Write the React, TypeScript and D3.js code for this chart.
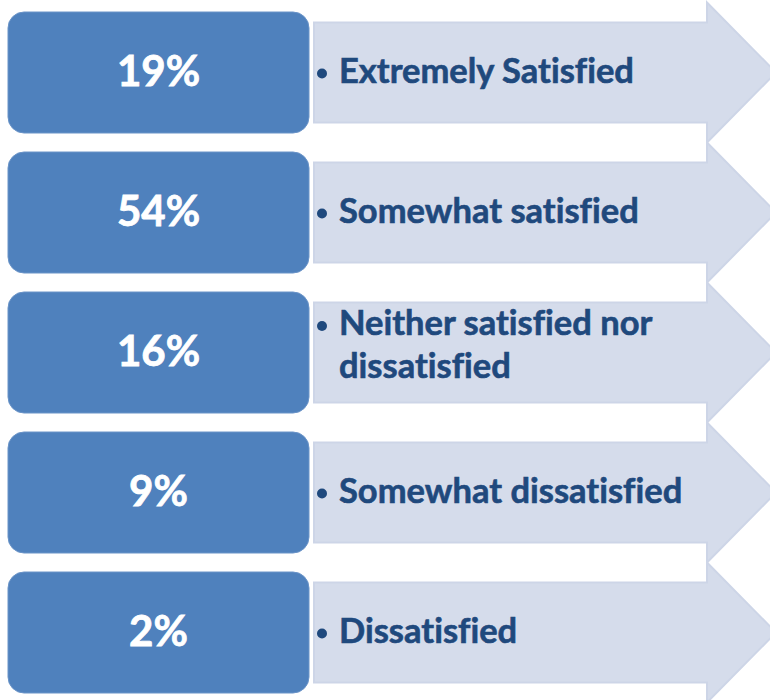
import React from "react";
import * as d3 from "d3";

const values = [19, 54, 16, 9, 2];
const labels: string[][] = [
  ["Extremely Satisfied"],
  ["Somewhat satisfied"],
  ["Neither satisfied nor", "dissatisfied"],
  ["Somewhat dissatisfied"],
  ["Dissatisfied"],
];

const W = 770;
const H = 700;

export default function App() {
  const y = d3
    .scaleBand<number>()
    .domain(d3.range(values.length))
    .range([12, 693])
    .paddingInner(19 / 140)
    .paddingOuter(0);
  const boxX = 8;
  const boxW = 301;
  const bodyX0 = 314;
  const bodyX1 = 707;
  const tipX = 776;
  const font = "Lato, 'Open Sans', sans-serif";

  return (
    <svg
      width={W}
      height={H}
      style={{ position: "absolute", left: 0, top: 0, background: "#fff" }}
    >
      {values.map((v, i) => {
        const top = y(i)!;
        const bh = y.bandwidth();
        const cy = top + bh / 2;
        const arrow = d3.path();
        arrow.moveTo(bodyX0, cy - 50);
        arrow.lineTo(bodyX1, cy - 50);
        arrow.lineTo(bodyX1, cy - 70);
        arrow.lineTo(tipX, cy);
        arrow.lineTo(bodyX1, cy + 70);
        arrow.lineTo(bodyX1, cy + 50);
        arrow.lineTo(bodyX0, cy + 50);
        arrow.closePath();
        const lines = labels[i];
        const offs = lines.length === 1 ? [10] : [-17.5, 25.5];
        return (
          <g key={i}>
            <path
              d={arrow.toString()}
              fill="#D5DCEB"
              stroke="#CDD5E7"
              strokeWidth={2}
            />
            <rect
              x={boxX}
              y={top}
              width={boxW}
              height={bh}
              rx={16}
              ry={16}
              fill="#4F81BD"
              stroke="#6B94C8"
              strokeWidth={1}
            />
            <text
              x={boxX + boxW / 2}
              y={cy + 13.5}
              textAnchor="middle"
              fill="#fff"
              stroke="#fff"
              strokeWidth={0.8}
              fontFamily={font}
              fontWeight={700}
              fontSize={42}
            >
              {`${v}%`}
            </text>
            <circle cx={322} cy={cy + offs[0] - 9} r={5} fill="#1F497D" />
            {lines.map((ln, j) => (
              <text
                key={j}
                x={339}
                y={cy + offs[j]}
                fill="#1F497D"
                stroke="#1F497D"
                strokeWidth={0.6}
                fontFamily={font}
                fontWeight={700}
                fontSize={34.5}
                style={{ fontVariantLigatures: "none" }}
              >
                {ln}
              </text>
            ))}
          </g>
        );
      })}
    </svg>
  );
}
